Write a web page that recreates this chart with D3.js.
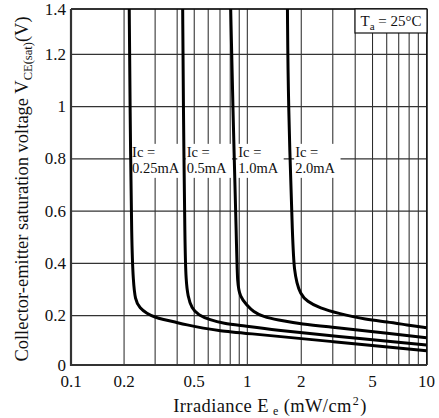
<!DOCTYPE html>
<html>
<head>
<meta charset="utf-8">
<script src="https://cdn.jsdelivr.net/npm/d3@7"></script>
<style>
body { margin: 0; background: #fff; }
text { font-family: "Liberation Serif", "DejaVu Serif", serif; fill: #111; }
</style>
</head>
<body>
<div class="chart"></div>
<script>
var margin = { top: 9, right: 12, bottom: 53, left: 71 }

var width = 439 - margin.left - margin.right;
var height = 418 - margin.top - margin.bottom;

// irradiance (mW/cm2) and Vce(sat) (V), one pair per Ic
var irr025 = [0.214, 0.216, 0.221, 0.2256, 0.2307, 0.246, 0.269, 0.2996, 0.334, 0.38, 0.453, 0.563, 0.70, 0.909, 3.03, 10];
var vce025 = [1.4, 1.025, 0.451, 0.337, 0.26, 0.228, 0.209, 0.1935, 0.185, 0.176, 0.163, 0.149, 0.139, 0.131, 0.0945, 0.058];

var irr05 = [0.430, 0.4335, 0.443, 0.449, 0.46, 0.484, 0.527, 0.614, 0.731, 0.95, 1.398, 3.02, 10];
var vce05 = [1.4, 1.025, 0.451, 0.337, 0.273, 0.228, 0.203, 0.183, 0.169, 0.159, 0.142, 0.118, 0.081];

var irr10 = [0.805, 0.826, 0.871, 0.878, 0.909, 0.992, 1.08, 1.229, 1.46, 2.015, 3.03, 5.07, 10];
var vce10 = [1.4, 1.025, 0.451, 0.325, 0.272, 0.241, 0.215, 0.196, 0.183, 0.166, 0.153, 0.135, 0.111];

var irr20 = [1.675, 1.69, 1.795, 1.832, 1.89, 1.972, 2.149, 2.553, 3.16, 4.66, 6.02, 7.8, 10];
var vce20 = [1.4, 1.025, 0.451, 0.375, 0.325, 0.286, 0.254, 0.229, 0.21, 0.183, 0.176, 0.162, 0.151];

var currents = ['0.25mA', '0.5mA', '1.0mA', '2.0mA'];
var labelIrr = [0.222, 0.453, 0.889, 1.849];
var labelVce = 0.8;

var xTicks = [0.1, 0.2, 0.5, 1, 2, 5, 10];
var xTickLabels = ['0.1', '0.2', '0.5', '1', '2', '5', '10'];
var xGrid = [0.2, 0.3, 0.4, 0.5, 0.6, 0.7, 0.8, 0.9, 1, 2, 3, 4, 5, 6, 7, 8, 9, 10];
var yTicks = [0, 0.2, 0.4, 0.6, 0.8, 1, 1.2, 1.4];
var yTickLabels = ['0', '0.2', '0.4', '0.6', '0.8', '1', '1.2', '1.4'];

var series = [
	{ irr: irr025, vce: vce025 },
	{ irr: irr05, vce: vce05 },
	{ irr: irr10, vce: vce10 },
	{ irr: irr20, vce: vce20 }
];

var svg = d3.select('.chart')
	.append('svg')
		.attr('width', width + margin.left + margin.right)
		.attr('height', height + margin.top + margin.bottom)
	.append('g')
		.attr('transform', `translate(${margin.left}, ${margin.top})`);

// the printed scales are not quite even, so both scales are piecewise
var xScale = d3.scaleLog()
	.domain([0.1, 1, 10])
	.range([0, 176.3, 355.5]);

var yScale = d3.scaleLinear()
	.domain([0, 0.2, 1.2, 1.4])
	.range([height, height - 49.3, 45.3, 0]);

// grid
svg.selectAll('.vgrid')
	.data(xGrid)
	.enter()
	.append('line')
	.attr('x1', d => xScale(d))
	.attr('x2', d => xScale(d))
	.attr('y1', 0)
	.attr('y2', height)
	.attr('stroke', '#222')
	.attr('stroke-width', 1);

svg.selectAll('.hgrid')
	.data(yTicks)
	.enter()
	.append('line')
	.attr('x1', 0)
	.attr('x2', width)
	.attr('y1', d => yScale(d))
	.attr('y2', d => yScale(d))
	.attr('stroke', '#333')
	.attr('stroke-width', 1.2);

// frame
svg.append('line').attr('x1', 0).attr('x2', width).attr('y1', 0).attr('y2', 0)
	.attr('stroke', '#111').attr('stroke-width', 1.5);
svg.append('line').attr('x1', width).attr('x2', width).attr('y1', 0).attr('y2', height)
	.attr('stroke', '#111').attr('stroke-width', 1.5);
svg.append('line').attr('x1', 0).attr('x2', 0).attr('y1', 0).attr('y2', height + 1)
	.attr('stroke', '#333').attr('stroke-width', 2.2);
svg.append('line').attr('x1', 0).attr('x2', width).attr('y1', height).attr('y2', height)
	.attr('stroke', '#333').attr('stroke-width', 2.2);

// tick labels
svg.selectAll('.ylab')
	.data(yTicks)
	.enter()
	.append('text')
	.attr('x', -5)
	.attr('y', d => yScale(d) + 5.5)
	.attr('text-anchor', 'end')
	.style('font-size', '17px')
	.text((d, i) => yTickLabels[i]);

svg.selectAll('.xlab')
	.data(xTicks)
	.enter()
	.append('text')
	.attr('x', d => xScale(d))
	.attr('y', height + 22)
	.attr('text-anchor', 'middle')
	.style('font-size', '17px')
	.text((d, i) => xTickLabels[i]);

// current labels with white boxes over the grid
var labels = svg.selectAll('.ic')
	.data(currents)
	.enter()
	.append('g')
	.attr('transform', (d, i) => `translate(${xScale(labelIrr[i])}, ${yScale(labelVce)})`);

var boxes = labels.append('rect').attr('fill', '#fff');

var texts = labels.append('text')
	.style('font-size', '14.5px');
texts.append('tspan').attr('x', 0).attr('y', -2).text('Ic =');
texts.append('tspan').attr('x', 0).attr('y', 14).text(d => d);

texts.each(function () {
	var b = this.getBBox();
	d3.select(this.parentNode).select('rect')
		.attr('x', b.x - 1)
		.attr('y', -15)
		.attr('width', b.width + 6)
		.attr('height', 34);
});

// curves
var line = d3.line()
	.x(d => xScale(d[0]))
	.y(d => yScale(d[1]))
	.curve(d3.curveBasis);

svg.selectAll('.curve')
	.data(series)
	.enter()
	.append('path')
	.attr('d', s => line(s.irr.map((v, i) => [v, s.vce[i]])))
	.attr('fill', 'none')
	.attr('stroke', '#000')
	.attr('stroke-width', 3);

// Ta box
var ta = svg.append('g')
	.attr('transform', `translate(${width - 72}, 0)`);
ta.append('rect')
	.attr('width', 72)
	.attr('height', 24)
	.attr('fill', '#fff')
	.attr('stroke', '#111')
	.attr('stroke-width', 1.2);
var taText = ta.append('text')
	.attr('x', 36)
	.attr('y', 17)
	.attr('text-anchor', 'middle')
	.style('font-size', '15px');
taText.append('tspan').text('T');
taText.append('tspan').attr('dy', 4).style('font-size', '11px').text('a');
taText.append('tspan').attr('dy', -4).text(' = 25°C');

// axis titles
var xTitle = svg.append('text')
	.attr('x', 199)
	.attr('y', height + 47)
	.attr('text-anchor', 'middle')
	.style('font-size', '18.5px')
	.style('letter-spacing', '0.4px');
xTitle.append('tspan').text('Irradiance E');
xTitle.append('tspan').attr('dx', 4).attr('dy', 3).style('font-size', '12px').text('e');
xTitle.append('tspan').attr('dx', 5).attr('dy', -3).text('(mW/cm');
xTitle.append('tspan').attr('dx', 1).attr('dy', -7).style('font-size', '12px').text('2');
xTitle.append('tspan').attr('dx', 1).attr('dy', 7).text(')');

var yTitle = svg.append('text')
	.attr('transform', `translate(${-43}, ${height / 2 + 2}) rotate(-90)`)
	.attr('text-anchor', 'middle')
	.style('font-size', '18.5px');
yTitle.append('tspan').text('Collector-emitter saturation voltage V');
yTitle.append('tspan').attr('dy', 4).style('font-size', '12.5px').text('CE(sat)');
yTitle.append('tspan').attr('dy', -4).text('(V)');
</script>
</body>
</html>
